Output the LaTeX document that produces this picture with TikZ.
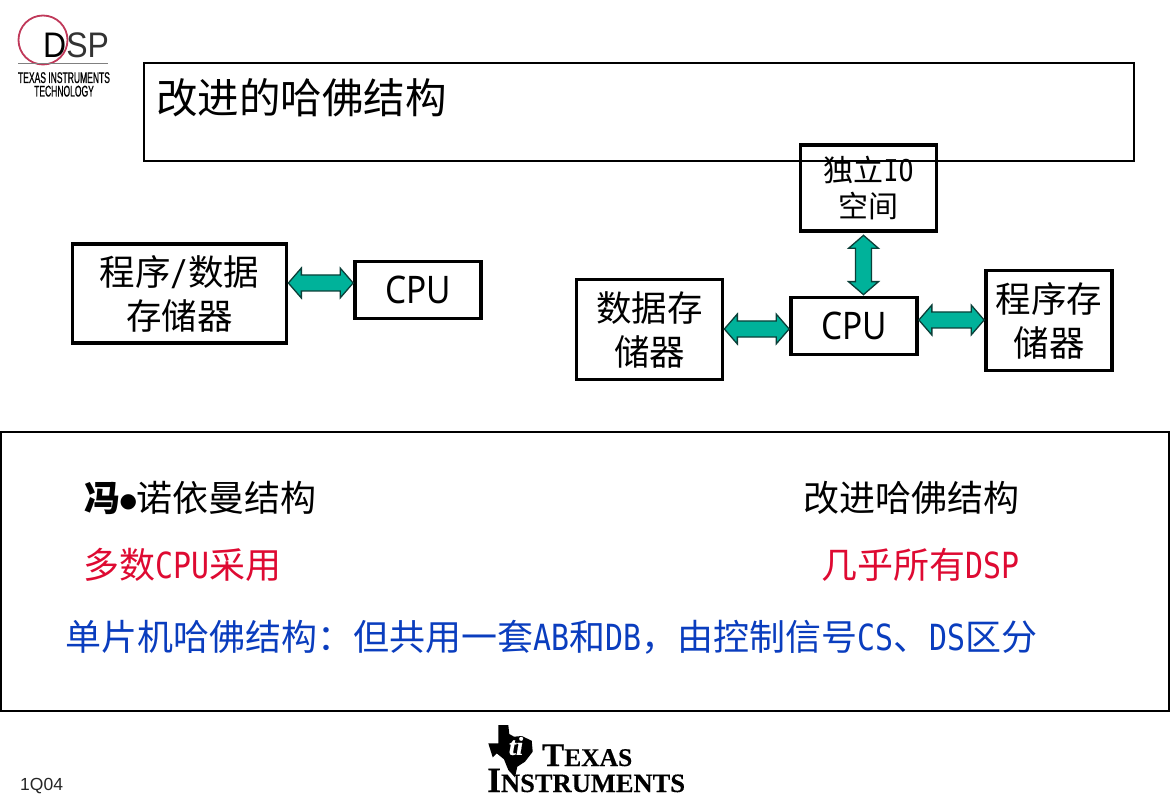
\documentclass[tikz,border=0pt]{standalone}
\usepackage{fontspec}
\usetikzlibrary{calc}
\setmainfont{Noto Sans CJK SC}
\newfontfamily\latmono[FakeStretch=0.83]{DejaVu Sans Mono}
\newfontfamily\latcpu[FakeStretch=0.88]{Noto Sans}
\newfontfamily\latsans{Liberation Sans}
\newfontfamily\latdsp[FakeStretch=0.9]{Liberation Sans}
\newfontfamily\latnarrow[FakeStretch=0.55,FakeBold=0.6]{Liberation Sans}
\newfontfamily\latserif[FakeBold=0.3]{Liberation Serif Bold}
\newfontfamily\symfont{DejaVu Sans}
\newcommand{\hw}[1]{{\latmono #1}}
\definecolor{tealfill}{HTML}{00B29A}
\definecolor{tealline}{HTML}{0B3F38}
\definecolor{redtxt}{HTML}{DE0A32}
\definecolor{bluetxt}{HTML}{0A3DBE}
\definecolor{dspred}{HTML}{C0395A}
\tikzset{
  x=1pt,y=-1pt,
  block/.style={draw=black,line width=3.7pt,align=center,inner sep=0pt,
    font=\fontsize{35.5}{44}\selectfont},
  cpublock/.style={block,font=\fontsize{38}{44}\selectfont\latcpu},
  iobox/.style={block,font=\fontsize{30}{36}\selectfont},
  frameb/.style={draw=black,inner sep=0pt},
  label/.style={inner sep=0pt,anchor=west,font=\fontsize{36}{44}\selectfont},
  fatarrow/.style={fill=tealfill,draw=tealline,line width=1.3pt,line join=miter},
}
\newcommand{\fatarrow}[2]{%
  \coordinate (p) at (#1);\coordinate (q) at (#2);
  \draw[fatarrow]
    (p) -- ($(p)!13pt!(q)!15pt!90:(q)$) -- ($(p)!13pt!(q)!8pt!90:(q)$)
    -- ($(q)!13pt!(p)!8pt!-90:(p)$) -- ($(q)!13pt!(p)!15pt!-90:(p)$)
    -- (q) -- ($(q)!13pt!(p)!15pt!90:(p)$) -- ($(q)!13pt!(p)!8pt!90:(p)$)
    -- ($(p)!13pt!(q)!8pt!-90:(q)$) -- ($(p)!13pt!(q)!15pt!-90:(q)$) -- cycle;}
\begin{document}
\begin{tikzpicture}
\useasboundingbox (0,0) rectangle (1170,810);
% logo DSP
\draw[dspred,line width=1.8pt] (43,40) circle (24.5);
\node[inner sep=0pt,anchor=base west,font=\fontsize{35.5}{35}\selectfont\latdsp] (dsp) at (43,57.5) {D\textcolor{black!80}{SP}};
\draw[black!50,line width=0.7pt] (18,63.5) -- (108,63.5);
\node[inner sep=0pt,anchor=base,font=\fontsize{15.5}{15.5}\selectfont\latnarrow] (ti1) at (64,83) {TEXAS INSTRUMENTS};
\node[inner sep=0pt,anchor=base,font=\fontsize{15.5}{15.5}\selectfont\latnarrow] (ti2) at (64,96.5) {TECHNOLOGY};
% title
\node[frameb,line width=1.8pt,minimum width=990pt,minimum height=98pt] (titlebox) at (639,112) {};
\node[label,font=\fontsize{41.5}{44}\selectfont] (title) at (156,98) {改进的哈佛结构};
% left
\node[block,minimum width=214pt,minimum height=99pt] (mem) at (179.5,293.5) {程序\hw{/}数据\\存储器};
\node[cpublock,minimum width=126pt,minimum height=57pt] (cpua) at (418,290) {CPU};
% right
\node[block,minimum width=146pt,minimum height=100pt] (dmem) at (649.5,329.5) {数据存\\储器};
\node[cpublock,minimum width=126pt,minimum height=57pt] (cpub) at (854,326) {CPU};
\node[block,minimum width=126pt,minimum height=100pt] (pmem) at (1049,320.5) {程序存\\储器};
\node[iobox,minimum width=136pt,minimum height=86pt] (io) at (868.5,188) {独立{\fontsize{30}{36}\selectfont\latmono IO}\\空间};
% arrows
\fatarrow{$(mem.east)+(0,-10.5)$}{$(cpua.west)+(0,-7)$}
\fatarrow{$(dmem.east)+(0,-0.5)$}{$(cpub.west)+(0,3)$}
\fatarrow{$(cpub.east)+(0,-6)$}{$(pmem.west)+(0,-0.5)$}
\fatarrow{$(io.south)+(-5,2.5)$}{$(cpub.north)+(9.5,-1)$}
% bottom frame
\node[frameb,line width=1.2pt,minimum width=1168pt,minimum height=279pt] (panel) at (585,571.5) {};
\node[label] (vn) at (84,498) {\textbf{冯}\makebox[16.5pt]{\raisebox{4pt}{\fontsize{20}{20}\selectfont\symfont ●}}诺依曼结构};
\node[label] (hv) at (803,498) {改进哈佛结构};
\node[label,text=redtxt] (vnuse) at (83,565) {多数\hw{CPU}采用};
\node[label,text=redtxt] (hvuse) at (821,565) {几乎所有\hw{DSP}};
\node[label,text=bluetxt] (mcu) at (65,637) {单片机哈佛结构：但共用一套\hw{AB}和\hw{DB}，由控制信号\hw{CS}、\hw{DS}区分};
% footer
\node[inner sep=0pt,anchor=base west,font=\fontsize{17.5}{17.5}\selectfont\latsans,text=black!85] (code) at (20,790) {1Q04};
% TI logo
\fill[black] (498.3,725) -- (508.3,725) -- (509.3,734) -- (514,736.7) -- (521.7,736) -- (531.7,740.7) -- (532.7,751.7)
  -- (525,761.7) -- (517.3,766.7) -- (515,777.3) -- (508.3,770) -- (504,759.3) -- (496.7,753.3) -- (492.7,757.3)
  -- (488.3,743.3) -- (498.3,743.3) -- cycle;
\node[inner sep=0pt,text=white,font=\fontsize{26}{26}\selectfont\latserif] (tilogo) at (516,746) {\textit{ti}};
\node[inner sep=0pt,anchor=base west,text depth=0pt,text height=20pt,font=\fontsize{33}{33}\selectfont\latserif] (tx) at (542,766) {T{\fontsize{25.5}{25.5}\selectfont EXAS}};
\node[inner sep=0pt,anchor=base west,text depth=0pt,text height=22pt,font=\fontsize{35.5}{36}\selectfont\latserif] (ins) at (487,792) {I{\fontsize{26.5}{27}\selectfont NSTRUMENTS}};
\end{tikzpicture}
\end{document}
